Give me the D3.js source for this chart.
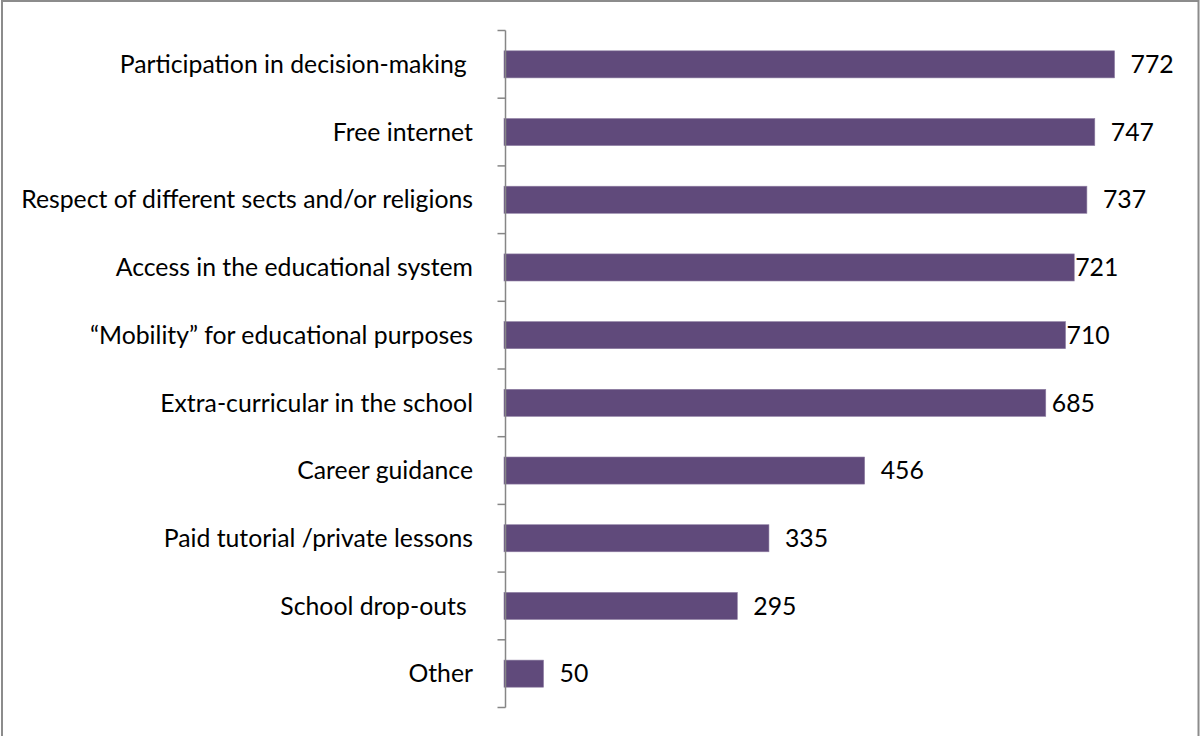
<!DOCTYPE html>
<html>
<head>
<meta charset="utf-8">
<script src="https://cdn.jsdelivr.net/npm/d3@7"></script>
<style>
  html, body { margin: 0; padding: 0; background: #fff; }
  svg { display: block; }
  text { font-family: Lato, "Open Sans", sans-serif; fill: #000; white-space: pre; }
</style>
</head>
<body>
<svg id="chart" width="1200" height="736"></svg>
<script>
// categories top to bottom, and their counts (trailing spaces as in the source)
const categories = [
  "Participation in decision-making ",
  "Free internet",
  "Respect of different sects and/or religions",
  "Access in the educational system",
  "\u201cMobility\u201d for educational purposes",
  "Extra-curricular in the school",
  "Career guidance",
  "Paid tutorial /private lessons",
  "School drop-outs ",
  "Other"
]
const values = [772, 747, 737, 721, 710, 685, 456, 335, 295, 50]

// label gap after bar end (some labels sit tight to the bar in the original)
const labelGap = [16, 16, 16, 1, 1, 6, 16, 16, 16, 16]

const W = 1200, H = 736
const svg = d3.select("#chart")

// outer chart border
svg.append("rect")
  .attr("x", 2).attr("y", 1)
  .attr("width", 1196.5).attr("height", H + 20)
  .attr("fill", "none")
  .attr("stroke", "#8c8c8c")
  .attr("stroke-width", 2)

const axisX = 505.5

const x = d3.scaleLinear()
  .domain([0, 800])
  .range([504, 504 + 800 * 0.7909])

const y = d3.scaleBand()
  .domain(categories)
  .range([30.5, 707.5])
  .paddingInner(0.6)
  .paddingOuter(0.3)

const step = y.step()

// pick a font size so the longest label is as wide as in the original (~452px)
const probe = svg.append("text").attr("font-size", 20).text(categories[2])
const fontSize = 20 * 452 / probe.node().getComputedTextLength()
probe.remove()

// bars
svg.append("g").selectAll("rect")
  .data(values)
  .join("rect")
    .attr("x", x(0))
    .attr("y", (d, i) => y(categories[i]))
    .attr("width", d => x(d) - x(0))
    .attr("height", y.bandwidth())
    .attr("fill", "#604a7b")
    .attr("stroke", "#8f7fa3")
    .attr("stroke-width", 0.6)

// axis line + tick marks between categories
const axis = svg.append("g")
  .attr("stroke", "#868686")
  .attr("stroke-width", 1.5)
axis.append("line")
  .attr("x1", axisX).attr("x2", axisX)
  .attr("y1", y.range()[0]).attr("y2", y.range()[1])
const bounds = d3.range(categories.length + 1).map(i => y.range()[0] + i * step)
axis.selectAll("line.tick")
  .data(bounds)
  .join("line")
    .attr("class", "tick")
    .attr("x1", axisX - 8).attr("x2", axisX)
    .attr("y1", d => d).attr("y2", d => d)

// category labels
svg.append("g").selectAll("text")
  .data(categories)
  .join("text")
    .attr("x", 473)
    .attr("y", d => y(d) + y.bandwidth() / 2)
    .attr("dy", "0.35em")
    .attr("text-anchor", "end")
    .attr("font-size", fontSize)
    .text(d => d)

// value labels
svg.append("g").selectAll("text")
  .data(values)
  .join("text")
    .attr("x", (d, i) => x(d) + labelGap[i])
    .attr("y", (d, i) => y(categories[i]) + y.bandwidth() / 2)
    .attr("dy", "0.35em")
    .attr("font-size", fontSize)
    .text(d => d)
</script>
</body>
</html>
